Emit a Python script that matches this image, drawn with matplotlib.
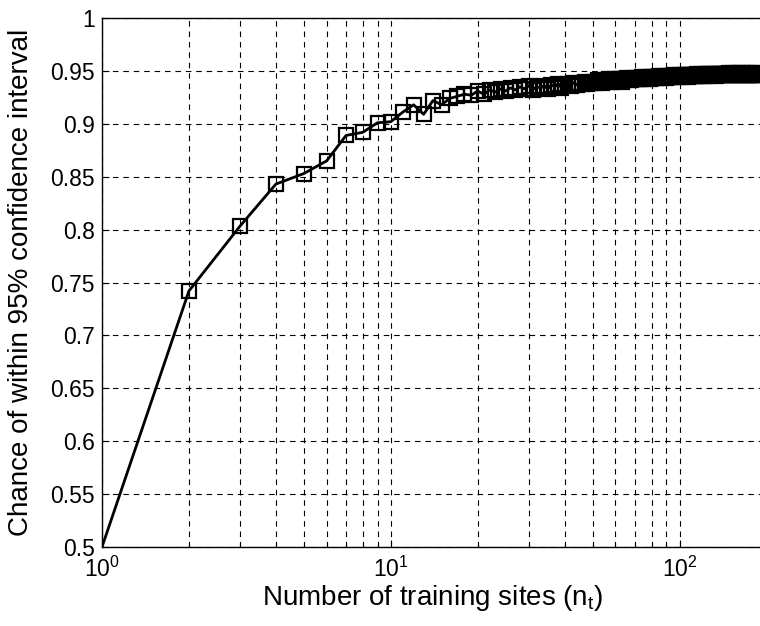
import numpy as np
import matplotlib
matplotlib.use("Agg")
import matplotlib.pyplot as plt
from matplotlib.ticker import FormatStrFormatter, LogLocator

plt.rcParams['font.family'] = ['Liberation Sans', 'DejaVu Sans']
plt.rcParams['mathtext.default'] = 'regular'
plt.rcParams['lines.scale_dashes'] = False

# number of training sites and chance of falling inside the 95% interval
n_sites = np.arange(1, 191)
chance = [
    0.500, 0.742, 0.803, 0.843, 0.853, 0.865, 0.889, 0.892, 0.901, 0.902,
    0.911, 0.918, 0.909, 0.922, 0.918, 0.924, 0.926, 0.928, 0.927, 0.931,
    0.928, 0.932, 0.930, 0.933, 0.931, 0.934, 0.932, 0.935, 0.933, 0.936,
    0.932, 0.935, 0.934, 0.936, 0.933, 0.937, 0.935, 0.938, 0.934, 0.937,
    0.938, 0.936, 0.939, 0.937, 0.939, 0.938, 0.940, 0.938, 0.939, 0.940,
    0.939, 0.941, 0.940, 0.939, 0.941, 0.940, 0.942, 0.940, 0.941, 0.942,
    0.941, 0.942, 0.940, 0.942, 0.941, 0.943, 0.942, 0.941, 0.943, 0.942,
    0.942, 0.943, 0.942, 0.944, 0.943, 0.942, 0.944, 0.943, 0.942, 0.944,
    0.943, 0.944, 0.943, 0.944, 0.945, 0.943, 0.944, 0.945, 0.944, 0.943,
    0.944, 0.945, 0.944, 0.945, 0.944, 0.946, 0.945, 0.944, 0.945, 0.946,
    0.945, 0.944, 0.946, 0.945, 0.946, 0.945, 0.944, 0.946, 0.945, 0.946,
    0.945, 0.946, 0.945, 0.946, 0.947, 0.945, 0.946, 0.945, 0.946, 0.947,
    0.946, 0.945, 0.946, 0.947, 0.946, 0.945, 0.947, 0.946, 0.946, 0.947,
    0.946, 0.947, 0.946, 0.945, 0.947, 0.946, 0.947, 0.946, 0.947, 0.946,
    0.947, 0.946, 0.947, 0.946, 0.947, 0.946, 0.947, 0.948, 0.946, 0.947,
    0.946, 0.947, 0.948, 0.946, 0.947, 0.946, 0.947, 0.946, 0.948, 0.947,
    0.946, 0.947, 0.946, 0.947, 0.948, 0.946, 0.947, 0.946, 0.947, 0.947,
    0.946, 0.948, 0.947, 0.946, 0.947, 0.946, 0.947, 0.948, 0.946, 0.947,
    0.947, 0.946, 0.947, 0.948, 0.946, 0.947, 0.946, 0.947, 0.947, 0.946,
]
y_ticks = [0.5, 0.55, 0.6, 0.65, 0.7, 0.75, 0.8, 0.85, 0.9, 0.95, 1.0]

fig = plt.figure(figsize=(7.6, 6.26), dpi=100)
ax = fig.add_axes([0.1342, 0.1262, 0.8658, 0.845])

# line without the first marker, squares from n=2 on
ax.plot(n_sites, chance, color='black', lw=2.0)
ax.plot(n_sites[1:], chance[1:], 's', ms=9.5, mfc='none', mec='black', mew=1.6)

ax.set_xscale('log')
ax.set_xlim(1, 190)
ax.set_ylim(0.5, 1.0)
ax.set_yticks(y_ticks)
ax.yaxis.set_major_formatter(FormatStrFormatter('%g'))
ax.xaxis.set_minor_locator(LogLocator(base=10, subs=np.arange(2, 10)))

ax.grid(True, which='major', color='black', lw=0.8, linestyle=(0, (4, 3.5)))
ax.grid(True, which='minor', axis='x', color='black', lw=0.8, linestyle=(0, (4, 3.5)))
ax.tick_params(which='both', direction='in', labelsize=16.5, length=5, width=0.8)
ax.tick_params(which='minor', length=3)
ax.tick_params(axis='x', pad=7)
ax.tick_params(axis='y', pad=5)
for side in ['top', 'left', 'bottom']:
    ax.spines[side].set_linewidth(1.0)
ax.spines['right'].set_visible(False)

ax.set_xlabel('Number of training sites (n$_t$)', fontsize=20)
ax.set_ylabel('Chance of within 95% confidence interval', fontsize=20)
ax.xaxis.set_label_coords(0.503, -0.068)
ax.yaxis.set_label_coords(-0.103, 0.5)

fig.savefig('out.png', dpi=100)
